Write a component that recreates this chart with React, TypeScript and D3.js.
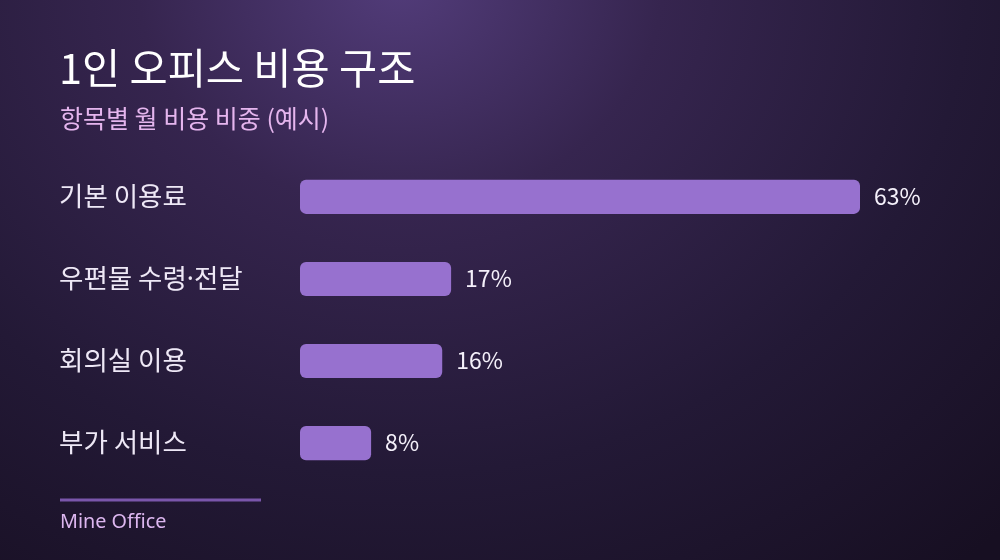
import React from "react";
import * as d3 from "d3";

const categories = ["기본 이용료", "우편물 수령·전달", "회의실 이용", "부가 서비스"];
const shares = [63, 17, 16, 8];
const title = "1인 오피스 비용 구조";
const subtitle = "항목별 월 비용 비중 (예시)";
const footer = "Mine Office";

const W = 1000;
const H = 560;

function renderLabel(c: string) {
  const parts = c.split("·");
  if (parts.length === 1) return c;
  return parts.map((p, i) => (
    <React.Fragment key={i}>
      {i > 0 && <tspan fontFamily="'Noto Sans', sans-serif">·</tspan>}
      {p}
    </React.Fragment>
  ));
}

export default function App() {
  const x = d3.scaleLinear().domain([0, d3.max(shares) as number]).range([300, 860]);
  const y = d3.scaleBand<string>().domain(categories).range([156, 484]).paddingInner(0.585).paddingOuter(0.29);
  const font = "'Noto Sans CJK KR', 'Noto Sans', sans-serif";
  return (
    <div style={{ position: "fixed", left: 0, top: 0, width: W, height: H, overflow: "hidden" }}>
      <svg width={W} height={H} style={{ display: "block" }} fontFamily={font}>
        <defs>
          <radialGradient id="bg" cx="400" cy="-20" r="760" gradientUnits="userSpaceOnUse"
            gradientTransform="translate(400,-20) scale(1.15,1) translate(-400,20)">
            <stop offset="0" stopColor="#523c7a" />
            <stop offset="0.3" stopColor="#36254f" />
            <stop offset="0.65" stopColor="#231936" />
            <stop offset="1" stopColor="#170f22" />
          </radialGradient>
        </defs>
        <rect width={W} height={H} fill="url(#bg)" />
        <text x={59} y={84} fill="#ffffff" fontSize={41.5}>{title}</text>
        <text x={60} y={128} fill="#e5b5ee" fontSize={25}>{subtitle}</text>
        {categories.map((c, i) => {
          const by = y(c) as number;
          const bh = y.bandwidth();
          const xe = x(shares[i]);
          return (
            <g key={c}>
              <text x={59} y={by + bh / 2} dy="0.35em" fill="#eee8f6" fontSize={26.5}>{renderLabel(c)}</text>
              <rect x={x(0)} y={by} width={xe - x(0)} height={bh} rx={6} fill="#9771cf" />
              <text x={xe + 14} y={by + bh / 2} dy="0.35em" fill="#f4f0fa" fontSize={23}>{shares[i]}%</text>
            </g>
          );
        })}
        <line x1={60} x2={261} y1={500} y2={500} stroke="#7a56ab" strokeWidth={3} />
        <text x={60} y={528} fill="#dcb6ef" fontSize={19.8} fontFamily="'Noto Sans', sans-serif">{footer}</text>
      </svg>
    </div>
  );
}
